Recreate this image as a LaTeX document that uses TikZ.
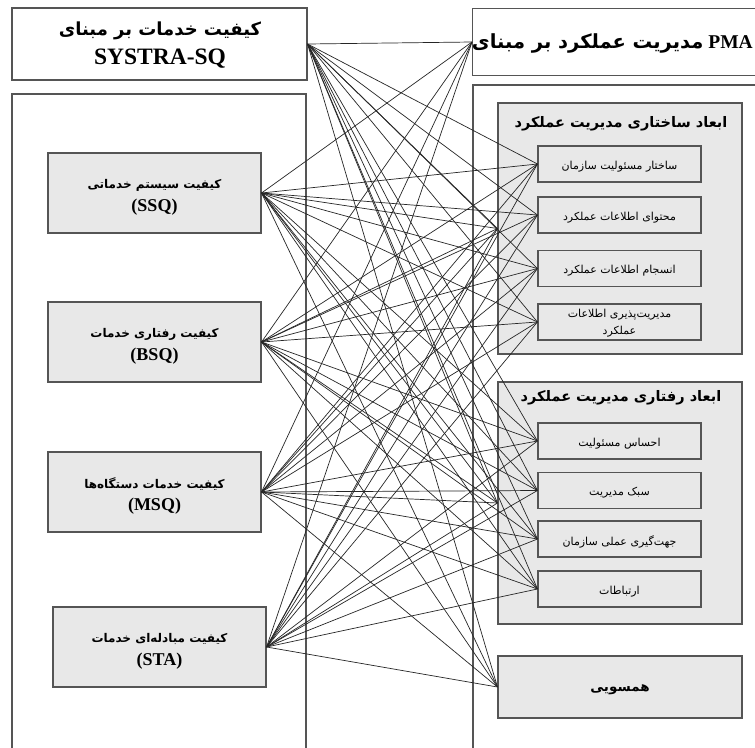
\documentclass[tikz,border=0pt]{standalone}
\usepackage{fontspec}
\setmainfont{Liberation Serif}
\newfontfamily\fa[Script=Arabic]{DejaVu Sans}
\TeXXeTstate=1
\definecolor{bordercol}{HTML}{555555}
\definecolor{boxfill}{HTML}{E8E8E8}
\definecolor{linecol}{HTML}{262626}
\newcommand\FA[1]{{\fa\beginR #1\endR}}
\tikzset{
  frame/.style={draw=bordercol, line width=1.1pt},
  box/.style={frame, rectangle, inner sep=0pt},
  gbox/.style={box, fill=boxfill},
  wbox/.style={box, fill=white},
  leftbox/.style={gbox, minimum width=213pt, minimum height=80pt},
  itembox/.style={gbox, minimum width=163pt, minimum height=36pt},
  groupbox/.style={gbox, minimum width=244pt},
  txt/.style={inner sep=0pt, align=center},
  itemtxt/.style={txt, font=\fontsize{11}{17}\selectfont},
  conn/.style={draw=linecol, line width=0.7pt},
}
\begin{document}
\begin{tikzpicture}[x=1pt,y=-1pt]
\useasboundingbox (0,0) rectangle (755,747);
\clip (0,0) rectangle (755,747);
\fill[white] (0,0) rectangle (755,747);
% big frames
\draw[frame] (12,800) -- (12,94) -- (306,94) -- (306,800);
\draw[frame] (800,85) -- (473,85) -- (473,800);
% top boxes
\node[wbox, minimum width=295pt, minimum height=72pt] (topL) at (159.5,44) {};
\node[txt] (topLa) at (160,31) {\fontsize{18}{22}\selectfont\bfseries\FA{کیفیت خدمات بر مبنای}};
\node[txt] (topLb) at (160,59) {\fontsize{23.5}{24}\selectfont\bfseries SYSTRA-SQ};
\node[wbox, minimum width=300pt, minimum height=67pt, anchor=west] (topR) at (472,42) {};
\node[anchor=east, inner sep=0pt] (topRtxt) at (753,43)
  {\fontsize{19.5}{22}\selectfont\bfseries\beginL\FA{مدیریت عملکرد بر مبنای} PMA\endL};
% left boxes
\node[leftbox] (ssq) at (154.5,193) {};
\node[txt] (ssqa) at (154.5,185) {\fontsize{12}{16}\selectfont\bfseries\FA{کیفیت سیستم خدماتی}};
\node[txt] (ssqb) at (154.5,207) {\fontsize{18}{20}\selectfont\bfseries (SSQ)};
\node[leftbox] (bsq) at (154.5,342) {};
\node[txt] (bsqa) at (154.5,334) {\fontsize{12}{16}\selectfont\bfseries\FA{کیفیت رفتاری خدمات}};
\node[txt] (bsqb) at (154.5,356) {\fontsize{18}{20}\selectfont\bfseries (BSQ)};
\node[leftbox] (msq) at (154.5,492) {};
\node[txt] (msqa) at (154.5,484) {\fontsize{12}{16}\selectfont\bfseries\FA{کیفیت خدمات دستگاه‌ها}};
\node[txt] (msqb) at (154.5,506) {\fontsize{18}{20}\selectfont\bfseries (MSQ)};
\node[leftbox] (sta) at (159.5,647) {};
\node[txt] (staa) at (159.5,639) {\fontsize{12}{16}\selectfont\bfseries\FA{کیفیت مبادله‌ای خدمات}};
\node[txt] (stab) at (159.5,661) {\fontsize{18}{20}\selectfont\bfseries (STA)};
% structural group
\node[groupbox, minimum height=251pt] (g1) at (620,228.5) {};
\node[txt] (g1t) at (621,124) {\fontsize{14.5}{16}\selectfont\bfseries\FA{ابعاد ساختاری مدیریت عملکرد}};
\node[itembox] (s1) at (619.5,164) {};
\node[itemtxt] (s1t) at (619.5,166.5) {\FA{ساختار مسئولیت سازمان}};
\node[itembox] (s2) at (619.5,215) {};
\node[itemtxt] (s2t) at (619.5,217.5) {\FA{محتوای اطلاعات عملکرد}};
\node[itembox] (s3) at (619.5,268.5) {};
\node[itemtxt] (s3t) at (619.5,271) {\FA{انسجام اطلاعات عملکرد}};
\node[itembox] (s4) at (619.5,322) {};
\node[itemtxt] (s4t) at (619.5,323) {\FA{مدیریت‌پذیری اطلاعات}\\\FA{عملکرد}};
% behavioural group
\node[groupbox, minimum height=242pt] (g2) at (620,503) {};
\node[txt] (g2t) at (621,398) {\fontsize{14.5}{16}\selectfont\bfseries\FA{ابعاد رفتاری مدیریت عملکرد}};
\node[itembox] (b1) at (619.5,441) {};
\node[itemtxt] (b1t) at (619.5,443.5) {\FA{احساس مسئولیت}};
\node[itembox] (b2) at (619.5,490.5) {};
\node[itemtxt] (b2t) at (619.5,493) {\FA{سبک مدیریت}};
\node[itembox] (b3) at (619.5,539) {};
\node[itemtxt] (b3t) at (619.5,541.5) {\FA{جهت‌گیری عملی سازمان}};
\node[itembox] (b4) at (619.5,589) {};
\node[itemtxt] (b4t) at (619.5,591.5) {\FA{ارتباطات}};
% alignment
\node[gbox, minimum width=244pt, minimum height=62pt] (ham) at (620,687) {};
\node[txt] (hamt) at (620,690) {\fontsize{13.5}{18}\selectfont\bfseries\FA{همسویی}};
% connectors
\draw[conn] (topL.east) -- (topR.west);
\foreach \t in {s1,s2,s3,s4,b1,b2,b3,b4,g1,g2,ham} {
  \draw[conn] (topL.east) -- (\t.west);
}
\foreach \s in {ssq,bsq,msq,sta} {
  \draw[conn] (topR.west) -- (\s.east);
  \foreach \t in {s1,s2,s3,s4,b1,b2,b3,b4,g1,g2,ham} {
    \draw[conn] (\s.east) -- (\t.west);
  }
}
\end{tikzpicture}
\end{document}
